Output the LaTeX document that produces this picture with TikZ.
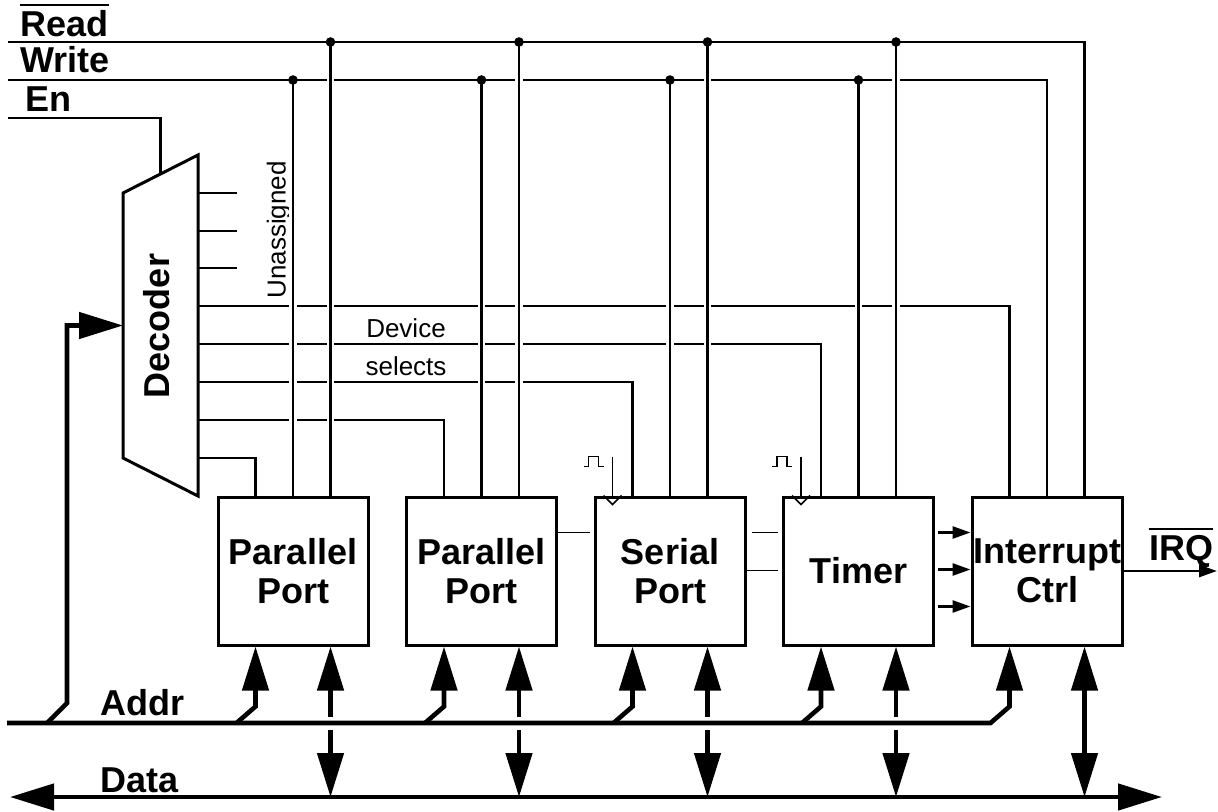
\documentclass[tikz,border=0pt]{standalone}
\usepackage{fontspec}
\setmainfont{Liberation Sans}
\usetikzlibrary{arrows.meta,calc}

\begin{document}
\begin{tikzpicture}[
  x=0.5pt, y=-0.5pt,
  font=\fontsize{18pt}{19.5pt}\selectfont\bfseries,
  port/.style ={rectangle, draw, line width=1.5pt, minimum width=75pt, minimum height=74pt, inner sep=0pt, align=center},
  sig/.style  ={line width=1.3pt},
  thin/.style ={line width=0.8pt},
  wire/.style ={sig, preaction={draw=white, line width=3.8pt, shorten <=2.5pt, shorten >=2.5pt}},
  bus/.style  ={line width=2.3pt},
  big/.style  ={-{Triangle[length=22pt,width=13pt]}},
  bigboth/.style={{Triangle[length=22pt,width=13pt]}-{Triangle[length=22pt,width=13pt]}},
  small/.style={-{Triangle[length=9pt,width=6pt]}},
  lbl/.style  ={font=\fontsize{13pt}{15pt}\selectfont\mdseries, inner sep=0pt},
  sig lbl/.style={inner sep=0pt}
]
\useasboundingbox (0,0) rectangle (1218,812);

% ---- Devices -----------------------------------------------------------------
\node[port] (pp1) at (293,571)    {Parallel\\Port};
\node[port] (pp2) at (481.5,571)  {Parallel\\Port};
\node[port] (ser) at (670,571)    {Serial\\Port};
\node[port] (tim) at (858.5,571)  {Timer};
\node[port] (ic)  at (1047,571)   {Interrupt\\Ctrl};

% taps: select / write / read on top, addr / data below
\foreach \b in {pp1,pp2,ser,tim,ic}{
  \coordinate (\b-s) at ($(\b.north)+(-37.5,0)$);
  \coordinate (\b-w) at (\b.north);
  \coordinate (\b-r) at ($(\b.north)+(37.5,0)$);
  \coordinate (\b-a) at ($(\b.south)+(-37.5,0)$);
  \coordinate (\b-d) at ($(\b.south)+(37.5,0)$);
}

% ---- Control lines -------------------------------------------------------------
\coordinate (rd) at (8,42);
\coordinate (wr) at (8,80);
\coordinate (en) at (8,118);

\node[sig lbl, anchor=base west] (rdl) at (20,37)  {Read};
\node[sig lbl, anchor=base west] (wrl) at (20,73)  {Write};
\node[sig lbl, anchor=base west] (enl) at (25,112) {En};
\draw[line width=1pt] ([yshift=3pt]rdl.north west) -- ([yshift=3pt]rdl.north east);

\draw[sig] (rd) -| (ic-r);
\draw[sig] (wr) -| (ic-w);

% ---- Decoder -------------------------------------------------------------------
\coordinate (dtl) at (123,193);
\coordinate (dtr) at (198,155);
\coordinate (dbr) at (198,496);
\coordinate (dbl) at (123,458);
\draw[line width=1.5pt] (dtl) -- (dtr) -- (dbr) -- (dbl) -- cycle;
\node[rotate=90] (dec) at (157,326) {Decoder};
\coordinate (den) at ($(dtl)!0.5!(dtr)$);
\coordinate (din) at ($(dtl)!0.5!(dbl)$);
\draw[sig] (en) -| (den);

\foreach \y [count=\i] in {193,231,268,306,344,382,420,458}
  \coordinate (o\i) at (198,\y);
\foreach \i in {1,2,3}
  \draw[sig] (o\i) -- ++(39,0);

% device selects
\draw[sig] (o4) -| (ic-s);
\draw[sig] (o5) -| (tim-s);
\draw[sig] (o6) -| (ser-s);
\draw[sig] (o7) -| (pp2-s);
\draw[sig] (o8) -| (pp1-s);

\node[lbl, rotate=90] (unas) at (279,230) {Unassigned};
\node[lbl] (dev) at (406,328) {Device};
\node[lbl] (sels) at (406,366) {selects};

% read / write drops
\foreach \b in {pp1,pp2,ser,tim}{
  \draw[wire] (\b-r |- rd) -- (\b-r);
  \draw[wire] (\b-w |- wr) -- (\b-w);
  \fill (\b-r |- rd) circle[radius=2.4pt];
  \fill (\b-w |- wr) circle[radius=2.4pt];
}

% ---- Clock inputs --------------------------------------------------------------
\foreach \b in {ser,tim}{
  \coordinate (\b-c) at ($(\b.north west)+(19,0)$);
  \coordinate (\b-ck) at ($(\b-c)+(0,-39)$);
  \draw[thin] (\b-ck) -- (\b-c);
  \draw[thin] ($(\b-c)+(-9,0)$) -- ($(\b-c)+(0,9)$) -- ($(\b-c)+(9,0)$);
  \draw[thin] ($(\b-c)+(-29,-29)$) -- ++(5,0) -- ++(0,-10) -- ++(10,0) -- ++(0,10) -- ++(5,0);
}

% ---- Links between devices -----------------------------------------------------
\draw[thin, shorten >=2pt] ($(pp2.north east)+(0,37)$) -- ($(ser.north west)+(0,37)$);
\draw[thin, shorten <=2.5pt, shorten >=2pt] ($(ser.north east)+(0,37)$) -- ($(tim.north west)+(0,37)$);
\draw[thin, shorten >=2pt] ($(ser.north east)+(0,75)$) -- ($(tim.north west)+(0,75)$);
\foreach \f in {1,2,3}
  \draw[sig, small] ($(tim.north east)+(3,37*\f)$) -- ($(ic.north west)+(0,37*\f)$);

\coordinate (irq) at (1217,571);
\draw[sig, small] (ic.east) -- (irq);
\node[sig lbl] (irql) at (1181,551) {IRQ};
\draw[line width=1pt] ([yshift=2.5pt]irql.north west) -- ([yshift=2.5pt]irql.north east);

% ---- Buses ---------------------------------------------------------------------
\coordinate (ab0) at (7,723);
\coordinate (ab1) at ($(ic-a |- ab0)+(-19,0)$);
\coordinate (db0) at (10,797);
\coordinate (db1) at (1162,797);

\draw[bus, bigboth] (db0) -- (db1);
\foreach \b in {pp1,pp2,ser,tim,ic}
  \draw[bus, bigboth] (\b-d) -- (\b-d |- db0);

\draw[white, line width=6.5pt] (ab0) -- (ab1);
\draw[bus, big] (ab0) -- (ab1) -- ($(ic-a)+(0,60)$) -- (ic-a);
\foreach \b in {pp1,pp2,ser,tim}
  \draw[bus, big] ($(\b-a |- ab0)+(-19,0)$) -- ($(\b-a)+(0,60)$) -- (\b-a);
\draw[bus, big] ($(ab0)+(40,0)$) -- ++(20,-20) |- (din);

\node[sig lbl, anchor=base west] (addr) at (100,715) {Addr};
\node[sig lbl, anchor=base west] (data) at (100,792) {Data};

\end{tikzpicture}
\end{document}
